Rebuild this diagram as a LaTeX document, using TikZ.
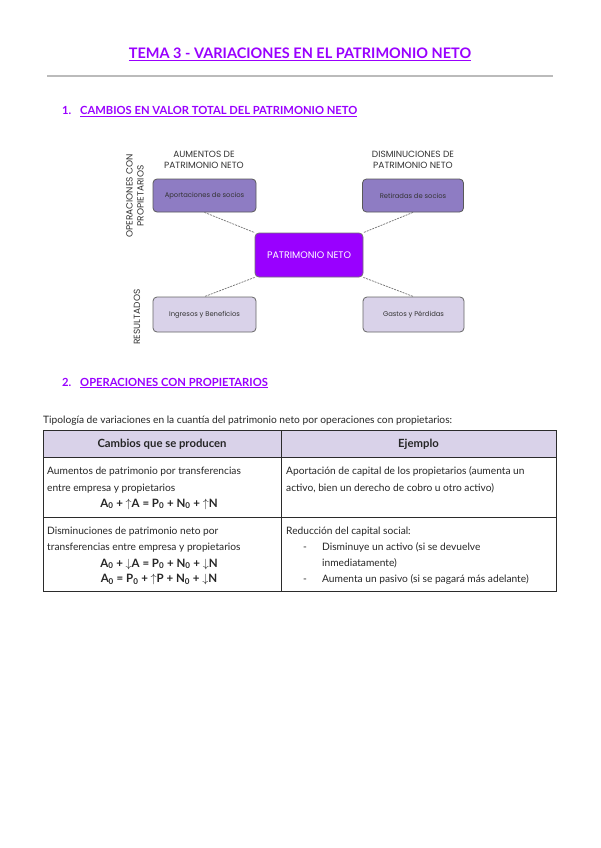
\documentclass[tikz,border=0pt]{standalone}
\usepackage{fontspec}
\setmainfont{Lato}
\newfontfamily\geo{Poppins}
\definecolor{vio}{HTML}{9900FF}
\definecolor{midp}{HTML}{8E7CC3}
\definecolor{lightp}{HTML}{D9D2E9}
\definecolor{rulegray}{HTML}{BBBBBB}
\definecolor{tblline}{HTML}{2B2B2B}
\tikzset{
  head/.style={font=\bfseries\fontsize{11.2}{13}\selectfont, text=vio, anchor=base west, inner sep=0},
  body/.style={font=\fontsize{10.2}{12}\selectfont, text=black!85, anchor=base west, inner sep=0},
  thead/.style={font=\bfseries\fontsize{11.3}{13}\selectfont, text=black!85, anchor=base, inner sep=0},
  formula/.style={font=\bfseries\fontsize{11.5}{13}\selectfont, text=black!85, anchor=base, inner sep=0},
  dbox/.style={rounded corners=4pt, line width=0.8pt, font=\geo\fontsize{6.8}{8}\selectfont, align=center, inner sep=0},
  topbox/.style={dbox, fill=midp, draw=black!65, text=black!80, minimum width=103, minimum height=33},
  pnbox/.style={dbox, fill=vio, draw=black!55, text=white, minimum width=108, minimum height=44, font=\geo\fontsize{9.5}{11}\selectfont},
  botbox/.style={dbox, fill=lightp, draw=black!60, text=black!80, minimum width=103, minimum height=35},
  lbl/.style={font=\geo\fontsize{9}{11}\selectfont, align=center, text=black!80, inner sep=0},
  link/.style={draw=black!55, dashed, line width=0.7pt, dash pattern=on 2pt off 1pt},
  tbl/.style={draw=tblline, line width=1pt}
}
\begin{document}
\begin{tikzpicture}[x=1pt,y=-1pt]
\useasboundingbox[fill=white] (0,0) rectangle (600,848);

% title
\node[font=\bfseries\fontsize{14.5}{16}\selectfont, text=vio, anchor=base, inner sep=0] (title) at (300,59) {\underline{TEMA 3 - VARIACIONES EN EL PATRIMONIO NETO}};
\draw[rulegray, line width=1.3pt] (47,76) -- (553,76);

% section 1
\node[head] (n1) at (62,115) {1.};
\node[head] (h1) at (80,115) {\underline{CAMBIOS EN VALOR TOTAL DEL PATRIMONIO NETO}};

% diagram
\node[lbl] (laum) at (204,160) {AUMENTOS DE\\PATRIMONIO NETO};
\node[lbl] (ldis) at (413,160) {DISMINUCIONES DE\\PATRIMONIO NETO};
\node[lbl, rotate=90] (lop) at (135,196) {OPERACIONES CON\\PROPIETARIOS};
\node[lbl, rotate=90] (lres) at (137,317) {RESULTADOS};

\node[topbox] (aport) at (204.5,195.5) {Aportaciones de socios};
\node[topbox, minimum width=101] (retir) at (413,195.5) {Retiradas de socios};
\node[pnbox] (pn) at (309,255) {PATRIMONIO NETO};
\node[botbox] (ingr) at (204.5,314.5) {Ingresos y Beneficios};
\node[botbox, minimum width=101] (gast) at (413.5,314.5) {Gastos y Pérdidas};

\draw[link] (aport.south) -- (pn.north west);
\draw[link] (retir.south) -- (pn.north east);
\draw[link] (pn.south west) -- (ingr.north);
\draw[link] (pn.south east) -- (gast.north);

% section 2
\node[head] (n2) at (62,386) {2.};
\node[head] (h2) at (80,386) {\underline{OPERACIONES CON PROPIETARIOS}};

\node[body] (intro) at (43,423) {Tipología de variaciones en la cuantía del patrimonio neto por operaciones con propietarios:};

% table
\fill[lightp] (43,430) rectangle (556,457);
\draw[tbl] (43,430) rectangle (556,591);
\draw[tbl] (43,457) -- (556,457);
\draw[tbl] (43,517) -- (556,517);
\draw[tbl] (281,430) -- (281,591);

\node[thead] (th1) at (162,447.5) {Cambios que se producen};
\node[thead] (th2) at (418.5,447.5) {Ejemplo};

\node[body] (r1a) at (47,474) {Aumentos de patrimonio por transferencias};
\node[body] (r1b) at (47,491) {entre empresa y propietarios};
\node[formula] (r1f) at (159,507) {A\textsubscript{0} + $\uparrow$A = P\textsubscript{0} + N\textsubscript{0} + $\uparrow$N};
\node[body] (r1c) at (286,474) {Aportación de capital de los propietarios (aumenta un};
\node[body] (r1d) at (286,491) {activo, bien un derecho de cobro u otro activo)};

\node[body] (r2a) at (47,534) {Disminuciones de patrimonio neto por};
\node[body] (r2b) at (47,550.5) {transferencias entre empresa y propietarios};
\node[formula] (r2f) at (159,567) {A\textsubscript{0} + $\downarrow$A = P\textsubscript{0} + N\textsubscript{0} + $\downarrow$N};
\node[formula] (r2g) at (159,582.5) {A\textsubscript{0} = P\textsubscript{0} + $\uparrow$P + N\textsubscript{0} + $\downarrow$N};
\node[body] (r2c) at (286,534) {Reducción del capital social:};
\node[body] (d1) at (303,550.5) {-};
\node[body] (r2d) at (322,550.5) {Disminuye un activo (si se devuelve};
\node[body] (r2e) at (322,566.5) {inmediatamente)};
\node[body] (d2) at (303,582.5) {-};
\node[body] (r2f2) at (322,582.5) {Aumenta un pasivo (si se pagará más adelante)};
\end{tikzpicture}
\end{document}
